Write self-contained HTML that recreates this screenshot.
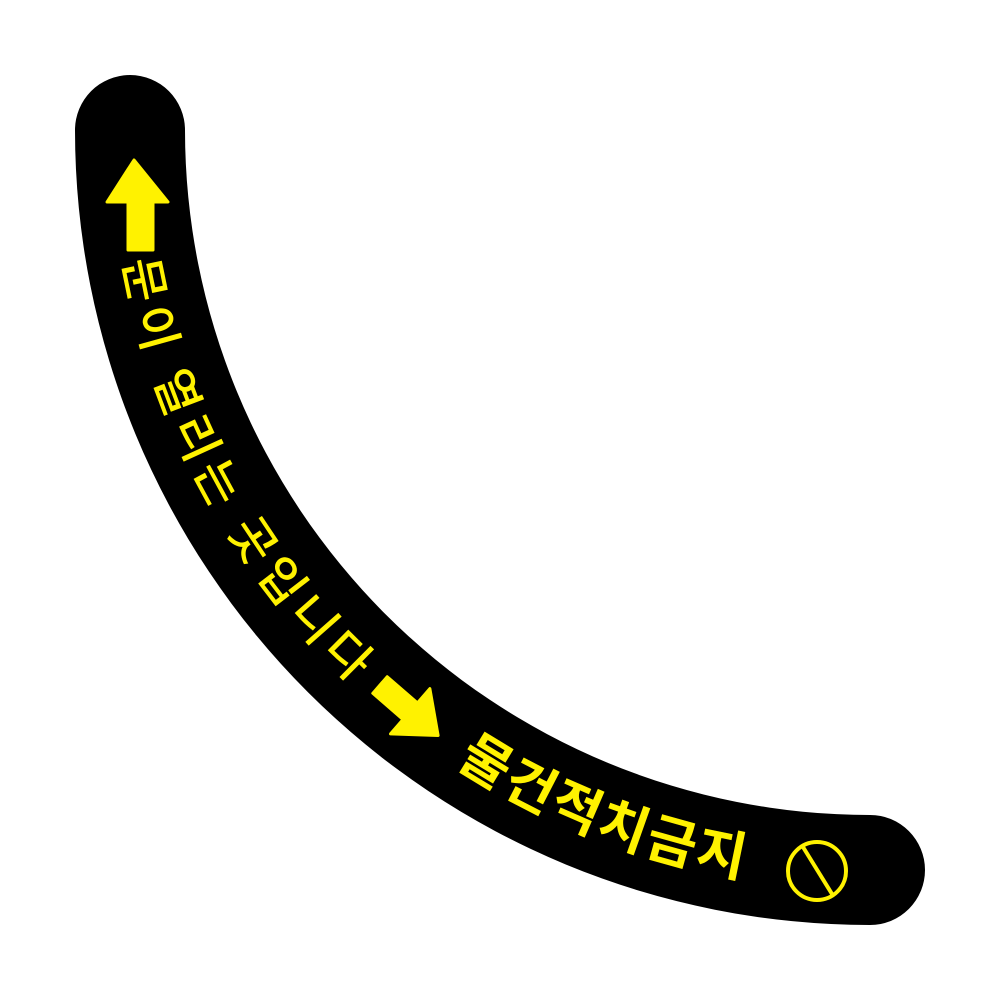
<!DOCTYPE html>
<html><head><meta charset="utf-8"><style>
html,body{margin:0;padding:0;background:#fff;width:1000px;height:1000px;overflow:hidden}
svg{display:block}
text{font-family:"Noto Sans CJK KR","NanumGothic",sans-serif;fill:#FFF200}
</style></head><body>
<svg width="1000" height="1000" viewBox="0 0 1000 1000">
<defs>
<path id="p1" d="M 112 130 A 758 758 0 0 0 870 888"/>
<path id="p2" d="M 112 130 A 758 758 0 0 0 870 888"/>
</defs>
<path d="M 75 130 A 55 55 0 0 1 185 130 A 685 685 0 0 0 870 815 A 55 55 0 0 1 870 925 A 795 795 0 0 1 75 130 Z" fill="#000"/>
<polygon points="134,160 168,202 153,202 153,250 128,250 128,202 107,202" fill="#FFF200" stroke="#FFF200" stroke-width="3" stroke-linejoin="round"/>
<g transform="translate(380,685) rotate(41)">
<polygon points="0,-11 40,-11 40,-30 77,0 40,30 40,11 0,11" fill="#FFF200" stroke="#FFF200" stroke-width="3" stroke-linejoin="round"/>
</g>
<text font-size="48" font-weight="500"><textPath href="#p1" startOffset="132" textLength="488" lengthAdjust="spacing">문이 열리는 곳입니다</textPath></text>
<text font-size="54" font-weight="700"><textPath href="#p2" startOffset="752" textLength="310" lengthAdjust="spacing">물건적치금지</textPath></text>
<circle cx="817" cy="871" r="29" fill="none" stroke="#FFF200" stroke-width="4"/>
<line x1="803" y1="847" x2="832" y2="894" stroke="#FFF200" stroke-width="4"/>
</svg>
</body></html>
